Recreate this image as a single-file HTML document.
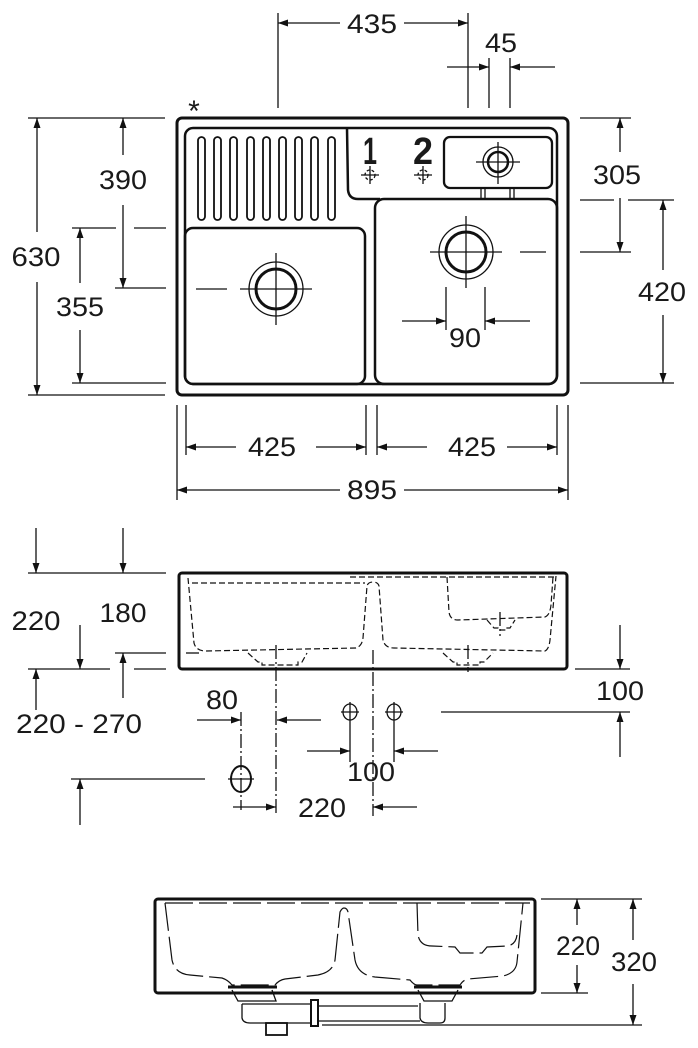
<!DOCTYPE html>
<html><head><meta charset="utf-8"><style>
html,body{margin:0;padding:0;background:#fff;}
svg{display:block}
text{font-family:"Liberation Sans",sans-serif;font-size:27px;fill:#1a1a1a;text-anchor:middle}
</style></head><body>
<svg width="698" height="1048" viewBox="0 0 698 1048" xmlns="http://www.w3.org/2000/svg">
<defs>
<marker id="a" viewBox="0 0 10 7" refX="10" refY="3.5" markerWidth="14" markerHeight="7" markerUnits="userSpaceOnUse" orient="auto"><path d="M0,0L10,3.5L0,7z" fill="#111"/></marker>
</defs>
<g stroke="#111" fill="none" stroke-width="1.3">
<line x1="278" y1="13" x2="278" y2="108"/><line x1="468" y1="13" x2="468" y2="108"/>
<line x1="340" y1="23" x2="278" y2="23" marker-end="url(#a)"/><line x1="404" y1="23" x2="468" y2="23" marker-end="url(#a)"/>
<line x1="489" y1="58" x2="489" y2="108"/><line x1="510" y1="58" x2="510" y2="108"/>
<line x1="447" y1="67" x2="489" y2="67" marker-end="url(#a)"/><line x1="555" y1="67" x2="510" y2="67" marker-end="url(#a)"/>
<line x1="28" y1="118" x2="165" y2="118"/><line x1="28" y1="395" x2="165" y2="395"/>
<line x1="37" y1="232" x2="37" y2="118" marker-end="url(#a)"/><line x1="37" y1="282" x2="37" y2="395" marker-end="url(#a)"/>
<line x1="123" y1="155" x2="123" y2="118" marker-end="url(#a)"/><line x1="123" y1="205" x2="123" y2="288" marker-end="url(#a)"/>
<line x1="115" y1="288" x2="166" y2="288"/>
<line x1="72" y1="228" x2="116" y2="228"/><line x1="134" y1="228" x2="166" y2="228"/>
<line x1="72" y1="383" x2="166" y2="383"/>
<line x1="80" y1="283" x2="80" y2="228" marker-end="url(#a)"/><line x1="80" y1="330" x2="80" y2="383" marker-end="url(#a)"/>
<line x1="580" y1="118" x2="631" y2="118"/><line x1="580" y1="252" x2="631" y2="252"/>
<line x1="520" y1="252" x2="546" y2="252"/>
<line x1="620" y1="152" x2="620" y2="118" marker-end="url(#a)"/><line x1="620" y1="198" x2="620" y2="252" marker-end="url(#a)"/>
<line x1="580" y1="200" x2="614" y2="200"/><line x1="628" y1="200" x2="674" y2="200"/>
<line x1="580" y1="383" x2="674" y2="383"/>
<line x1="663" y1="270" x2="663" y2="200" marker-end="url(#a)"/><line x1="663" y1="315" x2="663" y2="383" marker-end="url(#a)"/>
<line x1="177" y1="405" x2="177" y2="500"/><line x1="186" y1="405" x2="186" y2="455"/>
<line x1="366" y1="405" x2="366" y2="455"/><line x1="377" y1="405" x2="377" y2="455"/>
<line x1="557" y1="405" x2="557" y2="455"/><line x1="568" y1="405" x2="568" y2="500"/>
<line x1="236" y1="447" x2="186" y2="447" marker-end="url(#a)"/><line x1="316" y1="447" x2="366" y2="447" marker-end="url(#a)"/>
<line x1="427" y1="447" x2="377" y2="447" marker-end="url(#a)"/><line x1="507" y1="447" x2="557" y2="447" marker-end="url(#a)"/>
<line x1="340" y1="490" x2="177" y2="490" marker-end="url(#a)"/><line x1="404" y1="490" x2="568" y2="490" marker-end="url(#a)"/>
<rect x="177" y="118" width="391" height="277" rx="5" stroke-width="3"/>
<rect x="185" y="128" width="372" height="256" rx="8" stroke-width="2.5"/>
<path d="M347,128 L348,190 Q349,199 358,199 L380,199" stroke-width="2.5"/>
<rect x="185" y="228" width="180" height="156" rx="8" stroke-width="2.5"/>
<rect x="375" y="199" width="182" height="185" rx="9" stroke-width="2.5"/>
<g stroke-width="1.8">
<rect x="198" y="137" width="7" height="83" rx="3.5"/><rect x="214" y="137" width="7" height="83" rx="3.5"/>
<rect x="230" y="137" width="7" height="83" rx="3.5"/><rect x="247" y="137" width="7" height="83" rx="3.5"/>
<rect x="263" y="137" width="7" height="83" rx="3.5"/><rect x="279" y="137" width="7" height="83" rx="3.5"/>
<rect x="295" y="137" width="7" height="83" rx="3.5"/><rect x="311" y="137" width="7" height="83" rx="3.5"/>
<rect x="328" y="137" width="7" height="83" rx="3.5"/>
</g>
<rect x="444" y="137" width="108" height="51" rx="6" stroke-width="2.3"/>
<line x1="481" y1="188" x2="481" y2="199"/><line x1="485" y1="188" x2="485" y2="199"/>
<line x1="510" y1="188" x2="510" y2="199"/><line x1="514" y1="188" x2="514" y2="199"/>
<circle cx="498" cy="162" r="15"/><circle cx="498" cy="162" r="10" stroke-width="2.5"/>
<line x1="476" y1="162" x2="520" y2="162"/><line x1="498" y1="142" x2="498" y2="184"/>
<circle cx="370" cy="175" r="5" stroke-dasharray="3,2"/><line x1="361" y1="175" x2="379" y2="175"/><line x1="370" y1="166" x2="370" y2="184"/>
<circle cx="423" cy="175" r="5" stroke-dasharray="3,2"/><line x1="414" y1="175" x2="432" y2="175"/><line x1="423" y1="166" x2="423" y2="184"/>
<circle cx="276" cy="289" r="27"/><circle cx="276" cy="289" r="20" stroke-width="3"/>
<line x1="240" y1="289" x2="312" y2="289"/><line x1="276" y1="253" x2="276" y2="325"/><line x1="196" y1="289" x2="227" y2="289"/>
<circle cx="466" cy="252" r="27"/><circle cx="466" cy="252" r="20" stroke-width="3"/>
<line x1="430" y1="252" x2="502" y2="252"/><line x1="466" y1="216" x2="466" y2="288"/>
<line x1="446" y1="287" x2="446" y2="330"/><line x1="485" y1="287" x2="485" y2="330"/>
<line x1="402" y1="321" x2="446" y2="321" marker-end="url(#a)"/><line x1="530" y1="321" x2="485" y2="321" marker-end="url(#a)"/>
<rect x="179" y="573" width="388" height="96" rx="3" stroke-width="3"/>
<g stroke-dasharray="6,3" stroke-width="1.2">
<path d="M192,583 L365,583"/>
<path d="M188,578 L194,643 Q196,651 206,651 L356,648 Q362,646 363,638 L367,586 Q368,582 373,582 Q378,582 379,586 L383,640 Q385,648 394,648 L545,651 Q549,649 550,640 L556,576"/>
<path d="M350,577 L557,577"/>
<path d="M447,577 L449,612 Q450,620 458,620 L545,617 Q550,615 551,605 L553,577"/>
<path d="M248,653 L258,662 L262,662 L262,665 L298,665 L298,662 L302,662 L307,653"/>
<path d="M443,653 L453,662 L457,662 L457,665 L480,665 L480,662 L484,662 L493,653"/>
<path d="M487,620 L494,628 L498,628 L498,630 L506,630 L506,628 L510,628 L515,620"/>
</g>
<line x1="186" y1="653" x2="199" y2="653"/>
<g stroke-dasharray="14,3,2,3">
<line x1="276" y1="645" x2="276" y2="816"/><line x1="373" y1="650" x2="373" y2="816"/>
<line x1="468" y1="645" x2="468" y2="672"/><line x1="500" y1="612" x2="500" y2="636"/>
<line x1="241" y1="712" x2="241" y2="810"/>
</g>
<line x1="28" y1="573" x2="166" y2="573"/>
<line x1="115" y1="653" x2="166" y2="653"/>
<line x1="28" y1="669" x2="110" y2="669"/><line x1="134" y1="669" x2="166" y2="669"/>
<line x1="36" y1="528" x2="36" y2="573" marker-end="url(#a)"/><line x1="123" y1="528" x2="123" y2="573" marker-end="url(#a)"/>
<line x1="80" y1="625" x2="80" y2="669" marker-end="url(#a)"/>
<line x1="123" y1="698" x2="123" y2="653" marker-end="url(#a)"/>
<line x1="36" y1="710" x2="36" y2="669" marker-end="url(#a)"/>
<line x1="575" y1="669" x2="630" y2="669"/>
<line x1="620" y1="625" x2="620" y2="669" marker-end="url(#a)"/>
<line x1="441" y1="712" x2="630" y2="712"/>
<line x1="620" y1="757" x2="620" y2="712" marker-end="url(#a)"/>
<ellipse cx="350" cy="712" rx="7" ry="8"/><line x1="341" y1="712" x2="359" y2="712"/><line x1="350" y1="702" x2="350" y2="722"/>
<ellipse cx="394" cy="712" rx="7" ry="8"/><line x1="385" y1="712" x2="403" y2="712"/><line x1="394" y1="702" x2="394" y2="722"/>
<ellipse cx="241" cy="779" rx="10" ry="13" stroke-width="2"/><line x1="228" y1="779" x2="254" y2="779"/>
<line x1="350" y1="722" x2="350" y2="762"/><line x1="394" y1="722" x2="394" y2="762"/>
<line x1="197" y1="720" x2="241" y2="720" marker-end="url(#a)"/><line x1="321" y1="720" x2="277" y2="720" marker-end="url(#a)"/>
<line x1="307" y1="751" x2="350" y2="751" marker-end="url(#a)"/><line x1="438" y1="751" x2="394" y2="751" marker-end="url(#a)"/>
<line x1="233" y1="807" x2="276" y2="807" marker-end="url(#a)"/><line x1="417" y1="807" x2="373" y2="807" marker-end="url(#a)"/>
<line x1="71" y1="779" x2="205" y2="779"/>
<line x1="80" y1="825" x2="80" y2="779" marker-end="url(#a)"/>
<rect x="155" y="899" width="380" height="94" rx="3" stroke-width="3"/>
<g stroke-dasharray="28,6" stroke-width="1.2">
<path d="M165,903 L530,903"/>
<path d="M165,903 L172,960 Q175,974 190,975 L222,978 Q228,980 232,985 L275,985 Q279,980 285,979 L318,975 Q333,972 335,960 L340,912 Q342,908 344,908 Q347,908 348,912 L355,960 Q358,975 375,977 L410,980 Q414,985 417,985 L460,985 Q463,980 468,979 L503,976 Q516,973 517,962 L523,903"/>
<path d="M417,903 L418,935 Q420,946 432,946 L455,947 L460,953 L482,953 L487,947 L508,946 Q516,944 517,935"/>
</g>
<line x1="228" y1="987" x2="277" y2="987" stroke-width="3"/>
<line x1="414" y1="987" x2="462" y2="987" stroke-width="3"/>
<path d="M232,990 L238,1001 L276,1001 L272,990"/>
<path d="M418,990 L424,1001 L452,1001 L458,990"/>
<path d="M242,1004 L242,1018 Q243,1023 250,1023 L311,1023 M242,1004 L311,1004"/>
<path d="M318,1006 L418,1006 M318,1021 L420,1021"/>
<path d="M420,1003 L420,1018 Q421,1023 428,1023 L440,1023 Q445,1023 445,1018 L445,1003"/>
<rect x="311" y="1000" width="7" height="26" stroke-width="2"/>
<rect x="266" y="1023" width="21" height="12" stroke-width="1.8"/>
<line x1="322" y1="1025" x2="642" y2="1025"/>
<line x1="541" y1="899" x2="642" y2="899"/>
<line x1="541" y1="993" x2="588" y2="993"/>
<line x1="577" y1="925" x2="577" y2="899" marker-end="url(#a)"/><line x1="577" y1="965" x2="577" y2="993" marker-end="url(#a)"/>
<line x1="633" y1="940" x2="633" y2="899" marker-end="url(#a)"/><line x1="633" y1="984" x2="633" y2="1025" marker-end="url(#a)"/>
</g>
<text x="372" y="33" textLength="50" lengthAdjust="spacingAndGlyphs">435</text>
<text x="501" y="52" textLength="32" lengthAdjust="spacingAndGlyphs">45</text>
<text x="194" y="121" style="font-size:30px">*</text>
<text x="36" y="266" textLength="49" lengthAdjust="spacingAndGlyphs">630</text>
<text x="123" y="189" textLength="48" lengthAdjust="spacingAndGlyphs">390</text>
<text x="80" y="316" textLength="48" lengthAdjust="spacingAndGlyphs">355</text>
<text x="617" y="184" textLength="48" lengthAdjust="spacingAndGlyphs">305</text>
<text x="662" y="301" textLength="48" lengthAdjust="spacingAndGlyphs">420</text>
<text x="465" y="347" textLength="32" lengthAdjust="spacingAndGlyphs">90</text>
<text x="272" y="456" textLength="48" lengthAdjust="spacingAndGlyphs">425</text>
<text x="472" y="456" textLength="48" lengthAdjust="spacingAndGlyphs">425</text>
<text x="372" y="499" textLength="50" lengthAdjust="spacingAndGlyphs">895</text>
<text x="370" y="164" style="font-size:38px;font-weight:bold" textLength="14" lengthAdjust="spacingAndGlyphs">1</text>
<text x="423" y="164" style="font-size:38px;font-weight:bold" textLength="20" lengthAdjust="spacingAndGlyphs">2</text>
<text x="36" y="630" textLength="49" lengthAdjust="spacingAndGlyphs">220</text>
<text x="123" y="622" textLength="47" lengthAdjust="spacingAndGlyphs">180</text>
<text x="79" y="733" textLength="126" lengthAdjust="spacingAndGlyphs">220 - 270</text>
<text x="620" y="700" textLength="48" lengthAdjust="spacingAndGlyphs">100</text>
<text x="222" y="709" textLength="32" lengthAdjust="spacingAndGlyphs">80</text>
<text x="371" y="781" textLength="48" lengthAdjust="spacingAndGlyphs">100</text>
<text x="322" y="817" textLength="48" lengthAdjust="spacingAndGlyphs">220</text>
<text x="578" y="955" textLength="44" lengthAdjust="spacingAndGlyphs">220</text>
<text x="634" y="971" textLength="46" lengthAdjust="spacingAndGlyphs">320</text>
</svg>
</body></html>
